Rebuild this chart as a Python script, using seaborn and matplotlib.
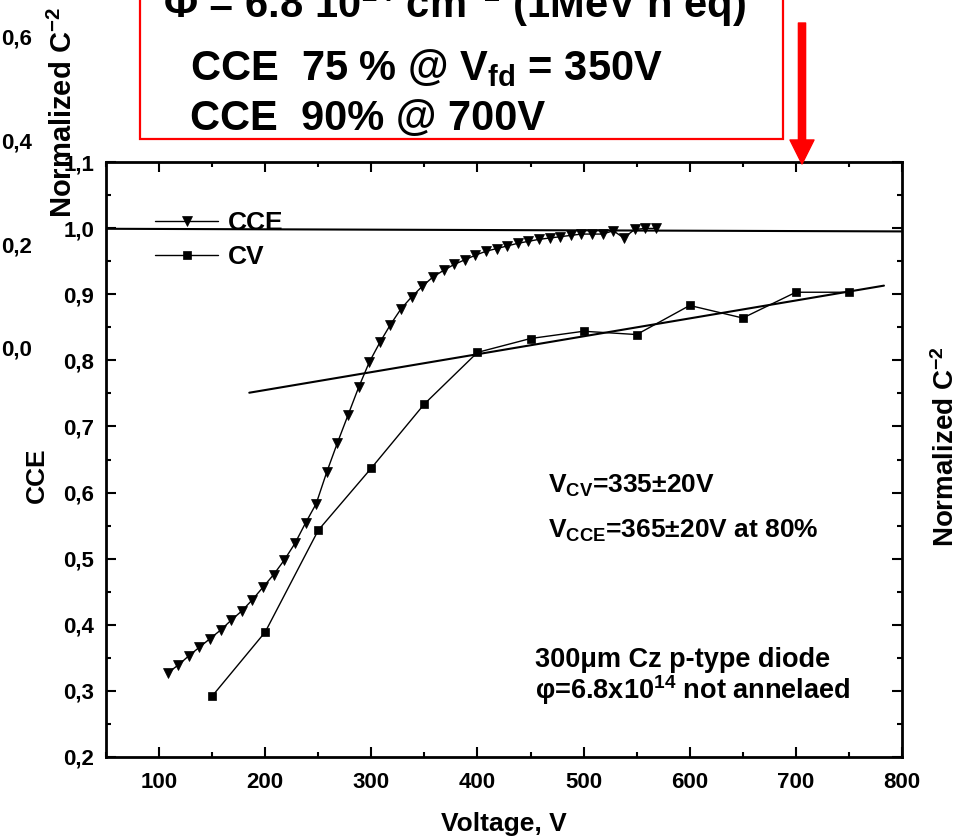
import matplotlib
matplotlib.use("Agg")
import matplotlib.pyplot as plt
import seaborn as sns
from matplotlib.patches import Rectangle
from matplotlib.ticker import MultipleLocator

# ---------------- data ----------------
cce_voltage = [108, 118, 128, 138, 148, 158, 168, 178, 188, 198, 208, 218, 228, 238,
               248, 258, 268, 278, 288, 298, 308, 318, 328, 338, 348, 358, 368, 378,
               388, 398, 408, 418, 428, 438, 448, 458, 468, 478, 488, 498, 508, 518,
               528, 538, 548, 558, 568]
cce_values = [0.327, 0.339, 0.353, 0.366, 0.379, 0.392, 0.407, 0.421, 0.438, 0.457,
              0.476, 0.498, 0.523, 0.554, 0.583, 0.631, 0.675, 0.717, 0.759, 0.797,
              0.827, 0.854, 0.878, 0.896, 0.912, 0.926, 0.936, 0.945, 0.952, 0.959,
              0.965, 0.969, 0.973, 0.977, 0.980, 0.983, 0.985, 0.987, 0.989, 0.991,
              0.991, 0.991, 0.996, 0.985, 0.998, 0.9995, 0.9995]
cv_voltage = [150, 200, 250, 300, 350, 400, 450, 500, 550, 600, 650, 700, 750]
cv_values = [0.292, 0.389, 0.543, 0.637, 0.734, 0.812, 0.833, 0.844, 0.839, 0.883,
             0.864, 0.903, 0.903]
cce_fit_voltage = [50, 800]
cce_fit_values = [0.999, 0.995]
cv_fit_voltage = [185, 783]
cv_fit_values = [0.751, 0.913]

x_ticks = [100, 200, 300, 400, 500, 600, 700, 800]
x_tick_labels = ["100", "200", "300", "400", "500", "600", "700", "800"]
y_ticks = [0.2, 0.3, 0.4, 0.5, 0.6, 0.7, 0.8, 0.9, 1.0, 1.1]
y_tick_labels = ["0,2", "0,3", "0,4", "0,5", "0,6", "0,7", "0,8", "0,9", "1,0", "1,1"]
ghost_tick_labels = ["0,6", "0,4", "0,2", "0,0"]

box_lines = [r"$\Phi$ = 6.8 10$^{14}$ cm$^{-2}$ (1MeV n eq)",
             r"CCE  75 % @ V$_{fd}$ = 350V",
             r"CCE  90% @ 700V"]

# ---------------- style ----------------
sns.set_theme(style="ticks")
plt.rcParams["font.family"] = ["Liberation Sans", "DejaVu Sans"]
plt.rcParams["font.weight"] = "bold"
plt.rcParams["mathtext.fontset"] = "custom"
plt.rcParams["mathtext.rm"] = "Liberation Sans:bold"
plt.rcParams["mathtext.it"] = "Liberation Sans:bold"
plt.rcParams["mathtext.bf"] = "Liberation Sans:bold"
plt.rcParams["mathtext.sf"] = "Liberation Sans:bold"
plt.rcParams["mathtext.default"] = "rm"
plt.rcParams["axes.edgecolor"] = "black"
plt.rcParams["axes.labelcolor"] = "black"
plt.rcParams["text.color"] = "black"
plt.rcParams["xtick.color"] = "black"
plt.rcParams["ytick.color"] = "black"
plt.rcParams["xtick.labelcolor"] = "black"
plt.rcParams["ytick.labelcolor"] = "black"

W, H = 973, 840
fig = plt.figure(figsize=(W / 100, H / 100), dpi=100)
fig.patch.set_facecolor("white")


def fx(px):
    return px / W


def fy(py):
    return 1 - py / H


ax = fig.add_axes([fx(106), fy(757), fx(902) - fx(106), fy(162) - fy(757)])
ax.set_facecolor("white")

# fit lines
sns.lineplot(x=cce_fit_voltage, y=cce_fit_values, ax=ax, color="black",
             linewidth=1.5, legend=False, errorbar=None)
sns.lineplot(x=cv_fit_voltage, y=cv_fit_values, ax=ax, color="black",
             linewidth=1.5, legend=False, errorbar=None)
# data
sns.lineplot(x=cce_voltage, y=cce_values, ax=ax, color="black", linewidth=1.0,
             marker="v", markersize=7, markeredgecolor="black", markerfacecolor="black",
             markeredgewidth=0.5, sort=False, errorbar=None, label="CCE")
sns.lineplot(x=cv_voltage, y=cv_values, ax=ax, color="black", linewidth=1.0,
             marker="s", markersize=6, markeredgecolor="black", markerfacecolor="black",
             markeredgewidth=0.5, sort=False, errorbar=None, label="CV")

ax.set_xlim(50, 800)
ax.set_ylim(0.2, 1.1)
ax.set_xticks(x_ticks, labels=x_tick_labels)
ax.set_yticks(y_ticks, labels=y_tick_labels)
ax.xaxis.set_minor_locator(MultipleLocator(50))
ax.yaxis.set_minor_locator(MultipleLocator(0.05))
ax.tick_params(which="both", direction="in", top=True, right=True, width=1.5,
               color="black", labelcolor="black")
ax.tick_params(which="major", length=7.5, labelsize=16)
ax.tick_params(which="minor", length=3.8)
ax.tick_params(axis="x", pad=10.5)
ax.tick_params(axis="y", pad=8.5)
for sp in ax.spines.values():
    sp.set_visible(True)
    sp.set_linewidth(2)
    sp.set_color("black")

ax.set_xlabel("Voltage, V", fontsize=19, fontweight="bold", color="black")
ax.set_ylabel("CCE", fontsize=19, fontweight="bold", color="black")
ax.xaxis.set_label_coords(0.5, -0.0925)
ax.yaxis.set_label_coords(-0.072, 0.474)

handles, labels = ax.get_legend_handles_labels()
ax.legend(handles=handles, labels=labels, loc="upper left",
          bbox_to_anchor=(0.0616, 0.918), frameon=False, borderpad=0,
          borderaxespad=0, handlelength=2.4, handletextpad=0.35,
          labelspacing=0.38, prop={"size": 19, "weight": "bold"})

# annotations inside the axes
ax.text(466.5, 0.599, r"V$_{CV}$=335$\pm$20V", fontsize=19, fontweight="bold",
        va="baseline", ha="left")
ax.text(466.5, 0.531, r"V$_{CCE}$=365$\pm$20V at 80%", fontsize=19,
        fontweight="bold", va="baseline", ha="left")
ax.text(454.2, 0.336, "300\u03bcm Cz p-type diode", fontsize=19.5,
        fontweight="bold", va="baseline", ha="left")
ax.text(454.2, 0.288, "\u03c6=6.8x10$^{14}$ not annelaed", fontsize=19.5,
        fontweight="bold", va="baseline", ha="left")

# right-side label
fig.text(fx(946), fy(447), r"Normalized C$^{-2}$", rotation=90, fontsize=20,
         fontweight="bold", ha="center", va="center")

# leftovers of an overlapping chart on the left
fig.text(fx(63), fy(113), r"Normalized C$^{-2}$", rotation=90, fontsize=21,
         fontweight="bold", ha="center", va="center")
for i, lab in enumerate(ghost_tick_labels):
    fig.text(fx(32), fy(45 + 103.5 * i), lab, fontsize=16, fontweight="bold",
             ha="right", va="baseline")

# red box with text
box = Rectangle((fx(140), fy(139)), fx(783) - fx(140), 1.2 - fy(139),
                transform=fig.transFigure, fill=True, facecolor="white",
                edgecolor="#ff0000", linewidth=1.6, clip_on=False, zorder=5)
fig.add_artist(box)
fig.text(fx(163), fy(18), box_lines[0], fontsize=30, fontweight="bold",
         ha="left", va="baseline", zorder=6)
fig.text(fx(190), fy(80), box_lines[1], fontsize=30, fontweight="bold",
         ha="left", va="baseline", zorder=6)
fig.text(fx(190), fy(130), box_lines[2], fontsize=30, fontweight="bold",
         ha="left", va="baseline", zorder=6)

# red arrow
ax.annotate("", xy=(802, H - 164), xytext=(802, H - 23),
            xycoords="figure pixels", textcoords="figure pixels",
            arrowprops=dict(arrowstyle="simple,head_length=1,head_width=1,tail_width=0.3",
                            mutation_scale=17.3, color="#ff0000", shrinkA=0, shrinkB=0),
            annotation_clip=False)

fig.savefig("out.png", dpi=100, facecolor="white")
